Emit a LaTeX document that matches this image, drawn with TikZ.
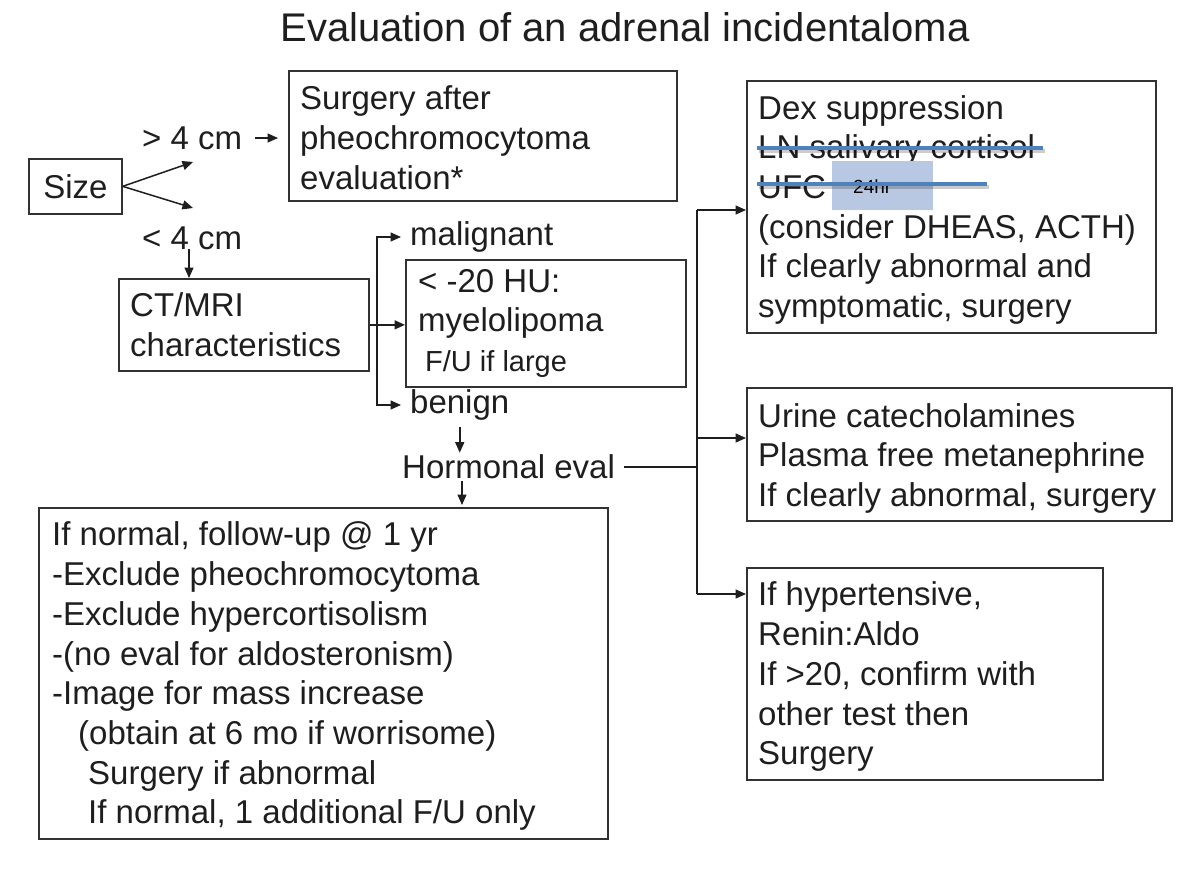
\documentclass[tikz,border=0pt]{standalone}
\usepackage{fontspec}
\setmainfont{Liberation Sans}
\usetikzlibrary{arrows.meta}
\definecolor{ink}{RGB}{30,30,30}
\definecolor{frame}{RGB}{50,50,50}
\definecolor{strikeblue}{RGB}{79,129,189}
\definecolor{patchblue}{RGB}{185,200,226}
\begin{document}
\begin{tikzpicture}[x=1pt,y=-1pt,
  box/.style={draw=frame, line width=1.7pt, anchor=north west, inner sep=0pt},
  txt/.style={anchor=west, inner sep=0pt, align=left, text=ink, font=\fontsize{33}{39.7}\selectfont},
  lbl/.style={anchor=west, inner sep=0pt, text=ink, font=\fontsize{33}{39.7}\selectfont},
  arr/.style={-{Triangle[length=10.5pt,width=9pt]}, line width=1.5pt, draw=ink},
  ln/.style={line width=1.5pt, draw=ink},
  strike/.style={line width=4pt, draw=strikeblue}]
\fill[white] (0,0) rectangle (1202,870);
\useasboundingbox (0,0) rectangle (1202,870);

% title
\node[inner sep=0pt, text=ink, font=\fontsize{40}{48}\selectfont] (title) at (625,27) {Evaluation of an adrenal incidentaloma};

% box frames
\node[box, minimum width=93pt, minimum height=55pt] (size) at (28,158) {};
\node[box, minimum width=388pt, minimum height=130pt] (surg) at (288,70) {};
\node[box, minimum width=250pt, minimum height=92pt] (ct) at (118,278) {};
\node[box, minimum width=280pt, minimum height=127pt] (hu) at (405,259) {};
\node[box, minimum width=409pt, minimum height=252pt] (dex) at (746,80) {};
\node[box, minimum width=425pt, minimum height=133pt] (urine) at (746,387) {};
\node[box, minimum width=356pt, minimum height=212pt] (htn) at (746,567) {};
\node[box, minimum width=569pt, minimum height=331pt] (bot) at (38,507) {};

% box texts
\node[txt, anchor=center] (sizet) at (size.center) {Size};
\node[txt] (surgt) at ([xshift=12pt,yshift=-2pt]surg.west) {Surgery after\\pheochromocytoma\\evaluation*};
\node[txt] (ctt) at ([xshift=12pt]ct.west) {CT/MRI\\characteristics};
\node[txt] (hut) at ([xshift=13pt]hu.west) {< -20 HU:\\myelolipoma\\\hspace*{7pt}{\fontsize{29}{38}\selectfont F/U if large}};
\node[txt] (dext) at ([xshift=12pt,yshift=-3pt]dex.west) {Dex suppression\\LN salivary cortisol\\UFC\\(consider DHEAS, ACTH)\\If clearly abnormal and\\symptomatic, surgery};
\node[txt] (urinet) at ([xshift=12pt,yshift=-4pt]urine.west) {Urine catecholamines\\Plasma free metanephrine\\If clearly abnormal, surgery};
\node[txt] (htnt) at ([xshift=12pt,yshift=-3pt]htn.west) {If hypertensive,\\Renin:Aldo\\If >20, confirm with\\other test then\\Surgery};
\node[txt] (bott) at ([xshift=14pt,yshift=-3pt]bot.west) {If normal, follow-up @ 1 yr\\-Exclude pheochromocytoma\\-Exclude hypercortisolism\\-(no eval for aldosteronism)\\-Image for mass increase\\\hspace*{26pt}(obtain at 6 mo if worrisome)\\\hspace*{36pt}Surgery if abnormal\\\hspace*{36pt}If normal, 1 additional F/U only};

% UFC 24hr patch and strike-throughs
\fill[patchblue] (832,161) rectangle (933,210);
\node[anchor=west, inner sep=0pt, text=black, font=\fontsize{19}{22}\selectfont] (hr) at (853,187) {24hr};
\draw[line width=4pt, draw=black, opacity=0.2] (759,151) -- (1045,151);
\draw[line width=4pt, draw=black, opacity=0.2] (759,187) -- (989,187);
\draw[strike] (757,148) -- (1043,148);
\draw[strike] (757,184) -- (987,184);

% labels
\node[lbl] (gt) at (142,138) {> 4 cm};
\node[lbl] (lt) at (142,238) {< 4 cm};
\node[lbl] (mal) at (410,237) {malignant};
\node[lbl] (ben) at (410,405) {benign};
\node[lbl] (horm) at (402,467) {Hormonal eval};

% coordinates
\coordinate (gtend) at (193,162);
\coordinate (ltend) at (193,208);
\coordinate (ltdrop) at (189,249);
\coordinate (br) at (377,324);
\coordinate (hdrop) at (462,481);
\coordinate (vjoin) at (697,467);
\coordinate (vtop) at (697,210);
\coordinate (vmid) at (697,438);
\coordinate (vbot) at (697,594);

% connectors
\draw[arr] (size.east) -- (gtend);
\draw[arr] (size.east) -- (ltend);
\draw[arr, shorten <=13pt, shorten >=10pt] (gt.east) -- (gt.east -| surg.west);
\draw[arr] (ltdrop) -- (ltdrop |- ct.north);
\draw[arr] (ct.east) -- (ct.east -| hu.west);
\draw[arr, shorten >=9pt] (br) |- (mal.west);
\draw[arr, shorten >=9pt] (br) |- (ben.west);
\draw[arr, shorten <=6pt, shorten >=2pt] (ben.south) -- (ben.south |- horm.north);
\draw[arr, shorten >=2pt] (hdrop) -- (hdrop |- bot.north);
\draw[ln, shorten <=9pt] (horm.east) -- (vjoin);
\draw[ln] (vtop) -- (vbot);
\draw[arr] (vtop) -- (vtop -| dex.west);
\draw[arr] (vmid) -- (vmid -| urine.west);
\draw[arr] (vbot) -- (vbot -| htn.west);
\end{tikzpicture}
\end{document}
